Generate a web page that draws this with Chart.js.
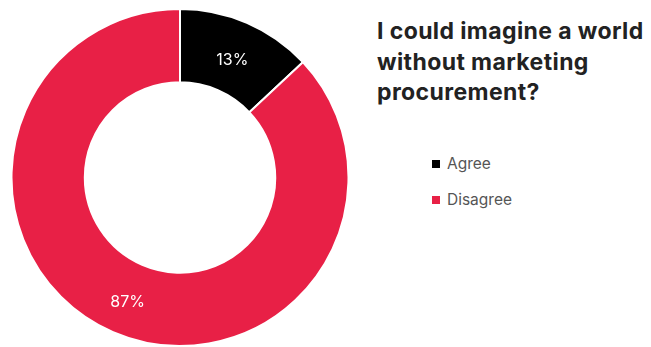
<!DOCTYPE html>
<html>
<head>
<meta charset="utf-8">
<script src="https://cdn.jsdelivr.net/npm/chart.js@4"></script>
<style>
  body { margin: 0; background: #fff; font-family: Inter, "Open Sans", sans-serif; }
  #wrap { position: relative; width: 651px; height: 347px; overflow: hidden; }
  #donut { position: absolute; left: 0; top: 0; width: 360px; height: 347px; }
  #titulo { position: absolute; left: 377px; top: 16px; margin: 0; font-size: 23px; letter-spacing: 0.4px; line-height: 30.5px; font-weight: 700; color: #222; }
  #leyenda { position: absolute; left: 432px; top: 153px; margin: 0; padding: 0; list-style: none; }
  #leyenda li { height: 36px; display: flex; align-items: flex-start; font-size: 15.5px; color: #555; line-height: 22px; }
  #leyenda span { display: inline-block; width: 8px; height: 8px; margin: 7px 7px 0 0; }
</style>
</head>
<body>
<div id="wrap">
  <div id="donut"><canvas id="myChart"></canvas></div>
  <h2 id="titulo">I could imagine a world<br>without marketing<br>procurement?</h2>
  <ul id="leyenda"></ul>
</div>
<script>
const respuestas = ['Agree', 'Disagree'];
const porcentajes = [13, 87];
const colores = ['#000000', '#e82046'];

window.addEventListener("load", function () {

    const ctx = document.getElementById('myChart');

    // porcentaje escrito encima de cada sector
    const etiquetas = {
        id: 'etiquetas',
        afterDatasetsDraw(chart) {
            const c = chart.ctx;
            c.save();
            c.fillStyle = '#fff';
            c.font = '16px Inter, "Open Sans", sans-serif';
            c.textAlign = 'center';
            c.textBaseline = 'middle';
            chart.getDatasetMeta(0).data.forEach((arco, i) => {
                const p = arco.tooltipPosition();
                c.fillText(chart.data.datasets[0].data[i] + '%', p.x, p.y + 4);
            });
            c.restore();
        }
    };

    // leyenda en html sacada de las etiquetas del grafico
    const leyendaHtml = {
        id: 'leyendaHtml',
        afterUpdate(chart) {
            const ul = document.getElementById('leyenda');
            ul.innerHTML = '';
            chart.options.plugins.legend.labels.generateLabels(chart).forEach(item => {
                const li = document.createElement('li');
                const caja = document.createElement('span');
                caja.style.background = item.fillStyle;
                li.appendChild(caja);
                li.appendChild(document.createTextNode(item.text));
                ul.appendChild(li);
            });
        }
    };

    ctx.grafico = new Chart(ctx, {
        type: 'doughnut',
        data: {
            labels: respuestas,
            datasets: [{
                data: porcentajes,
                backgroundColor: colores,
                borderColor: '#fff',
                borderWidth: 2
            }]
        },
        options: {
            responsive: true,
            maintainAspectRatio: false,
            animation: false,
            cutout: '56.5%',
            layout: { padding: { top: 8, bottom: 0 } },
            plugins: {
                legend: { display: false },
                tooltip: { enabled: false }
            }
        },
        plugins: [etiquetas, leyendaHtml]
    });
})
</script>
</body>
</html>
